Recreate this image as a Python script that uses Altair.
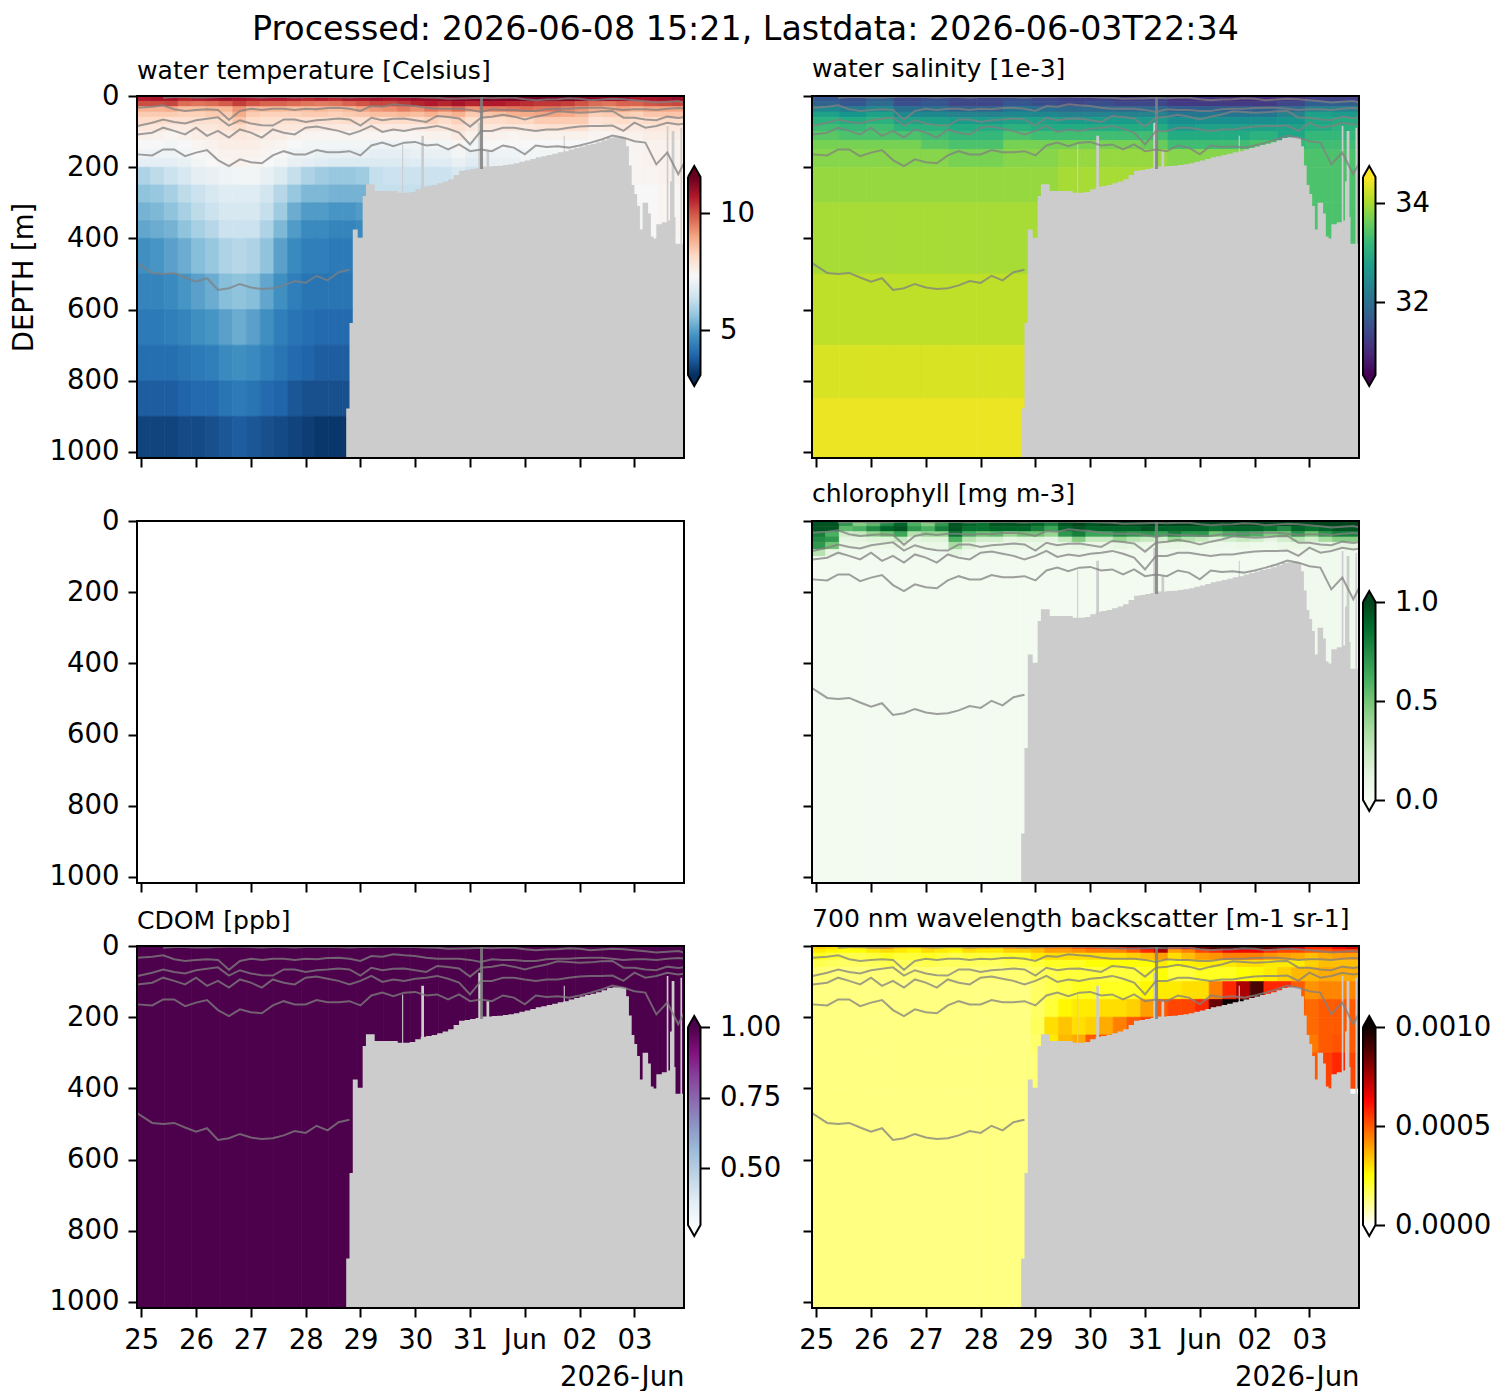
import altair as alt
import pandas as pd

TITLE = "Processed: 2026-06-08 15:21, Lastdata: 2026-06-03T22:34"
x_tick_labels = ['25', '26', '27', '28', '29', '30', '31', 'Jun', '02', '03']
y_ticks = [0, 200, 400, 600, 800, 1000]
XDOM = [-0.078, 9.905]
YDOM = [0, 1017]
PW, PH = 547, 362
CW = 128

# temperature, tenths of a degree, 0.25 day columns
T_edges = [0, 15, 30, 45, 60, 80, 100, 125, 150, 175, 200, 250, 300, 350, 400, 500, 600, 700, 800, 900, 1020]
T_rows = [
    [107,108,108,106,107,108,109,108,107,108,108,107,106,107,106,108,108,109,108,109,110,110,111,112,112,113,112,113,114,114,113,114,113,112,111,111,108,108,109,110],
    [101,101,102,97,96,97,99,103,100,98,98,97,96,95,96,98,100,102,102,104,106,107,106,108,106,107,107,106,105,104,104,103,100,97,96,98,98,100,101,102],
    [88,88,89,86,86,87,87,92,87,87,87,86,86,87,86,87,90,92,93,95,93,96,94,97,92,95,95,96,97,96,96,94,92,89,88,90,88,90,90,90],
    [84,84,84,83,83,84,84,89,84,83,83,83,84,84,83,84,85,86,86,87,86,88,86,88,84,85,86,88,89,90,90,89,87,83,84,84,83,85,85,85],
    [81,81,80,80,80,80,81,85,81,80,80,80,80,80,80,81,80,81,81,81,81,83,81,83,80,81,81,82,82,84,84,84,84,79,80,81,80,81,81,81],
    [78,78,77,77,78,78,79,81,79,78,78,78,77,77,77,77,77,77,77,77,77,78,78,80,78,78,78,78,78,79,80,80,80,76,77,78,77,78,78,78],
    [75,75,74,75,76,76,77,78,77,76,76,75,74,74,74,74,74,74,74,74,74,75,75,77,75,75,75,74,75,75,75,75,75,74,74,75,75,76,76,76],
    [73,73,72,73,74,75,76,76,76,75,74,73,72,72,72,72,72,71,71,71,71,72,72,74,72,73,73,73,73,73,73,73,73,73,73,74,74,75,75,75],
    [71,71,71,72,73,74,75,75,75,74,73,71,71,70,70,70,70,69,69,69,70,70,70,72,70,71,71,71,72,72,72,72,72,72,73,74,74,75,75,75],
    [69,69,69,70,72,73,74,75,74,73,72,70,69,68,67,67,67,67,67,67,68,68,68,70,68,70,70,70,71,71,71,71,72,72,72,73,74,75,75,75],
    [60,62,64,66,69,70,71,72,72,70,67,63,60,58,57,57,58,63,64,64,64,64,64,66,64,66,66,66,70,70,70,70,70,72,72,73,74,74,75,75],
    [56,57,59,62,64,66,68,68,68,65,61,57,54,54,53,53,53] + [63] * 19 + [73,73,74,74],
    [53,54,56,59,62,64,66,66,66,63,58,52,49,49,48,48,49] + [63] * 19 + [72,73,74,74],
    [51,52,53,56,59,61,64,64,64,60,54,49,46,46,45,45,46] + [63] * 19 + [72,73,74,74],
    [47,48,50,52,55,57,60,61,60,56,50,46,44,44,43,43] + [63] * 20 + [73,73,73,73],
    [45,45,46,48,50,52,55,56,55,51,47,44,42,42,42,42],
    [43,43,44,45,47,48,50,52,50,47,44,42,41,40,40,40],
    [41,41,41,42,43,44,46,47,46,44,42,40,39,38,38,38],
    [38,38,38,39,40,40,42,43,42,40,39,37,36,36,36,36],
    [34,34,34,35,35,36,37,38,37,36,35,34,33,32,32,32],
]

# salinity, tenths, 0.5 day columns
S_edges = [0, 15, 30, 45, 60, 80, 100, 125, 150, 200, 300, 500, 700, 850, 1020]
S_rows = [
    [316,315,317,314,315,314,314,315,314,313,313,312,313,311,311,310,310,311,313,313],
    [318,316,319,315,316,314,314,316,315,314,315,314,314,312,312,312,312,314,317,317],
    [324,322,324,320,320,318,318,321,320,319,319,319,319,317,317,317,317,319,323,323],
    [328,326,328,324,324,323,323,324,324,323,323,323,323,321,321,321,321,323,328,327],
    [331,330,331,328,328,327,327,328,328,327,327,327,327,325,325,325,325,326,329,330],
    [333,332,333,331,331,330,330,331,330,330,330,330,330,327,328,328,328,328,330,331],
    [335,334,334,334,333,332,332,334,333,333,333,333,333,330,330,330,331,329,332,332],
    [337,337,337,337,335,334,334,337,337,337,337,337,336,333,333,333,334,332,333,333],
    [338,338,338,338,338,337,337,338,338,339,339,339,339,338,338,338,339,335,334,334],
    [339,339,339,339,339,339,339,339,339,340,340,340,340,340,340,340,340,337,334,334],
    [340] * 18 + [334,334],
    [341.5] * 8,
    [343] * 8,
    [344.2] * 8,
]

# chlorophyll, hundredths, 0.25 day columns
C_edges = [0, 15, 30, 45, 60, 80, 100, 1020]
C_rows = [
    [95,95,70,45,55,75,90,60,45,70,95,90,85,95,95,95,90,80,95,100,95,100,100,100,100,100,100,100,100,100,100,100,100,100,100,100,100,100,100,100],
    [95,95,55,60,75,90,95,70,60,80,95,85,85,90,90,90,80,65,90,95,90,90,90,90,95,90,90,90,90,85,90,90,90,85,75,90,85,90,95,95],
    [80,60,20,25,40,50,65,30,40,40,85,60,50,55,40,50,50,40,70,80,65,65,75,70,70,65,80,70,70,50,60,65,60,45,50,70,50,70,80,80],
    [75,70,12,12,15,15,25,12,15,15,60,30,20,20,12,15,15,12,25,45,25,25,40,30,25,20,40,30,25,15,20,25,20,12,20,30,20,35,45,45],
    [70,50,8,8,8,8,10,8,8,8,35,15,8,8,8,8,8,8,8,12,8,8,12,10,8,8,10,8,8,6,6,8,6,6,8,10,8,10,12,12],
    [30,10,5,5,5,5,5,5,5,5,12,6,5,5,5,5,5,5,5,5,5,5,5,5,5,5,5,5,5,4,4,4,4,4,5,5,5,5,5,5],
    [3] * 36 + [5,5,5,5],
]

# CDOM, ppb, 0.5 day columns
D_edges = [0, 1020]
D_rows = [[1.05] * 20]

# backscatter, 1e-5 m-1 sr-1, 0.25 day columns
B_edges = [0, 10, 20, 40, 60, 100, 150, 200, 250, 300, 400, 1020]
B_rows = [
    [32,30,28,30,35,40,32,30,35,30,30,35,35,32,40,40,40,45,45,50,55,55,60,70,80,90,60,70,85,90,90,95,90,85,80,70,60,60,65,70],
    [28,26,25,25,28,30,28,26,30,28,26,30,28,28,32,32,35,40,40,42,45,45,45,50,60,75,40,45,55,60,65,65,65,60,55,55,50,50,55,55],
    [24,22,20,20,22,24,22,22,24,22,20,22,22,22,24,24,28,30,30,30,30,30,30,32,35,40,30,35,40,42,45,45,45,42,40,38,35,38,40,40],
    [20,18,17,17,18,20,18,18,20,18,18,18,18,18,20,20,22,24,24,24,25,25,25,25,25,28,25,27,28,28,28,30,30,28,28,28,32,35,35,35],
    [15,14,13,13,14,14,14,14,14,14,14,14,14,14,15,15,18,20,22,22,22,22,22,22,24,25,22,22,24,24,24,25,26,28,32,36,36,38,38,38],
    [12,11,10,10,10,10,10,10,11,11,11,11,11,11,12,12,17,20,22,24,24,24,24,24,26,28,28,30,30,45,60,75,90,60,60,50,42,44,44,44],
    [11,10,9,9,9,9,9,9,10,10,10,10,10,10,11,11,17,22,26,28,28,30,30,32,40,50,55,55,60,85,100,110,110,110,60,50,48,50,50,50],
    [10,10,9,9,9,9,9,9,10,10,10,10,10,10,10,10,18,30,34,30,32,38,45,50,55,60] + [50] * 10 + [48,50,50,50],
    [10] * 16 + [16,28,36,38] + [50] * 16 + [46,50,52,50],
    [10] * 16 + [14,16] + [50] * 18 + [50,56,60,55],
    [10,10,9,9,9,8,8,8,8,8,8,8,8,8,8,8],
]

# bottom depth as steps: day of step start, depth
floor_days = [3.74,3.80,3.86,3.95,4.04,4.10,4.26,4.68,4.8,4.9,5.0,5.1,5.2,5.3,5.4,5.5,5.6,5.7,5.8,5.9,6.0,6.1,6.2,6.3,6.4,6.5,6.6,6.7,6.8,6.9,7.0,7.1,7.2,7.3,7.4,7.5,7.6,7.7,7.8,7.9,8.0,8.1,8.2,8.3,8.4,8.5,8.6,8.7,8.8,8.85,8.9,8.95,9.0,9.05,9.1,9.15,9.2,9.25,9.3,9.35,9.4,9.5,9.6,9.65,9.7,9.75,9.8,9.9,9.95]
floor_depth = [878,638,375,398,281,248,267,272,272,270,262,255,253,250,245,240,234,222,210,208,205,202,198,198,197,196,194,192,189,185,181,177,172,169,166,162,158,155,150,146,142,138,134,130,124,118,116,115,117,141,195,250,275,309,375,300,300,330,395,400,360,355,350,240,340,415,415,420,420]

sliver_day = [4.76, 5.11, 6.15, 6.30, 7.71, 9.59, 9.68, 9.84]
sliver_wid = [0.02, 0.05, 0.06, 0.05, 0.02, 0.03, 0.05, 0.03]
sliver_top = [136, 112, 75, 155, 112, 84, 98, 89]

stripe_day = [6.21]
stripe_top = [0]
stripe_bot = [205]

# isolines
line_days = [-0.07,0.2,0.4,0.6,0.8,1.0,1.2,1.4,1.6,1.8,2.0,2.2,2.4,2.6,2.8,3.0,3.2,3.4,3.6,3.8,4.0,4.2,4.4,4.6,4.8,5.0,5.2,5.4,5.6,5.8,6.0,6.2,6.4,6.6,6.8,7.0,7.2,7.4,7.6,7.8,8.0,8.2,8.4,8.6,8.8,9.0,9.2,9.4,9.6,9.8,9.9]
L0 = [5,3,3,4,4,3,2,2,3,4,3,3,4,3,2,3,3,4,3,3,2,2,3,3,4,5,8,7,6,5,6,5,5,9,12,10,9,6,8,12,10,8,9,12,15,18,16,14,18]
L1 = [33,30,26,37,42,39,37,39,67,42,36,39,36,36,39,36,37,34,33,36,42,28,30,23,26,28,33,36,36,36,39,45,37,39,39,42,42,37,36,36,34,33,33,36,39,37,37,39,36,34,35]
L2 = [84,75,66,73,77,68,64,60,83,68,77,82,83,66,66,73,68,66,63,66,83,61,68,64,63,68,73,56,59,63,86,61,58,53,58,66,58,52,43,45,47,46,43,42,61,61,66,68,58,62,60]
L3 = [108,103,89,98,108,89,112,98,117,94,103,117,94,103,108,89,86,92,98,108,98,84,101,94,98,92,89,84,92,103,136,98,98,89,89,94,98,94,94,89,86,84,84,83,98,75,89,84,75,80,78]
L4 = [164,167,150,150,169,159,152,180,197,178,186,189,167,155,164,164,152,158,158,155,167,139,131,141,131,129,139,136,150,136,155,150,155,139,145,164,139,143,141,145,139,131,122,111,117,127,131,192,159,220,190]
L5 = [470,497,500,497,510,522,512,545,540,528,538,542,540,532,520,525,505,518,495,488]

RdBu = ['#053061','#2166ac','#4393c3','#92c5de','#d1e5f0','#f7f7f7','#fddbc7','#f4a582','#d6604d','#b2182b','#67001f']
Viridis = ['#440154','#482878','#3e4989','#31688e','#26828e','#1f9e89','#35b779','#6ece58','#b5de2b','#fde725']
Greens = ['#f7fcf5','#e5f5e0','#c7e9c0','#a1d99b','#74c476','#41ab5d','#238b45','#006d2c','#00441b']
BuPu = ['#f7fcfd','#e0ecf4','#bfd3e6','#9ebcda','#8c96c6','#8c6bb1','#88419d','#810f7c','#4d004b']
HotR = ['#ffffff','#ffff81','#ffff04','#ffae00','#ff5a00','#ff0700','#ae0000','#570000','#0b0000']


def even(n):
    return [i / (n - 1) for i in range(n)]


def cells(rows, edges, step, factor):
    out = []
    for j, row in enumerate(rows):
        for i, v in enumerate(row):
            out.append({'x': -0.08 + step * i, 'x2': -0.08 + step * (i + 1),
                        'y': edges[j], 'y2': edges[j + 1], 'v': v * factor})
    return pd.DataFrame(out)


def lines():
    out = []
    for name, days, vals in [('L0', line_days[2:], L0), ('L1', line_days, L1), ('L2', line_days, L2),
                             ('L3', line_days, L3), ('L4', line_days, L4), ('L5', line_days, L5)]:
        for d, v in zip(days, vals):
            out.append({'x': d, 'y': v, 'line': name})
    return pd.DataFrame(out)


floor_df = pd.DataFrame({'x': floor_days, 'y': floor_depth, 'y2': [1020] * len(floor_depth)})
sliver_df = pd.DataFrame({'x': sliver_day, 'x2': [d + w for d, w in zip(sliver_day, sliver_wid)],
                          'y': sliver_top, 'y2': [1020] * len(sliver_top)})
stripe_df = pd.DataFrame({'x': stripe_day, 'y': stripe_top, 'y2': stripe_bot})
frame_df = pd.DataFrame({'x': [XDOM[0]], 'x2': [XDOM[1]], 'y': [YDOM[0]], 'y2': [YDOM[1]]})
line_df = lines()

LABEL = 27.5
xscale = alt.Scale(domain=XDOM, nice=False, zero=False)
yscale = alt.Scale(domain=YDOM, nice=False, zero=False, reverse=True)


def panel(cell_df, scale, title=None, xlabels=False, ylabels=True, ytitle=None):
    xa = dict(values=list(range(10)), tickSize=9, tickWidth=2, tickColor='black', domain=False, grid=False,
              labels=xlabels, labelFontSize=LABEL, labelColor='black', labelPadding=9, labelOverlap=False,
              labelExpr=str(x_tick_labels) + '[datum.value]', title='', labelFlush=False, labelBound=False)
    if xlabels:
        xa.update(title='2026-Jun', titleFontSize=LABEL, titleFontWeight='normal', titleColor='black',
                  titleAnchor='end', titlePadding=10)
    ya = dict(values=y_ticks, format='d', tickSize=9, tickWidth=2, tickColor='black', domain=False, grid=False,
              labels=ylabels, labelFontSize=LABEL, labelColor='black', labelPadding=9, labelOverlap=False,
              title='', labelFlush=False, labelBound=False)
    if ytitle:
        ya.update(title=ytitle, titleFontSize=LABEL, titleFontWeight='normal', titleColor='black', titlePadding=11)
    X = alt.X('x:Q', scale=xscale, axis=alt.Axis(**xa))
    Y = alt.Y('y:Q', scale=yscale, axis=alt.Axis(**ya))
    X2, Y2 = alt.X2('x2:Q'), alt.Y2('y2:Q')
    layers = []
    if cell_df is not None:
        layers.append(alt.Chart(cell_df).mark_rect(clip=True, strokeWidth=0.7).encode(
            x=X, x2=X2, y=Y, y2=Y2,
            color=alt.Color('v:Q', scale=scale, legend=None),
            stroke=alt.Stroke('v:Q', scale=scale, legend=None)))
        layers.append(alt.Chart(floor_df).mark_area(clip=True, color='#cccccc', interpolate='step-after',
                                                    orient='vertical').encode(x=X, y=Y, y2=Y2))
        layers.append(alt.Chart(sliver_df).mark_rect(clip=True, color='#cccccc').encode(x=X, x2=X2, y=Y, y2=Y2))
        layers.append(alt.Chart(line_df).mark_line(clip=True, color='#808080', opacity=0.75, strokeWidth=2).encode(
            x=X, y=Y, detail='line:N'))
        layers.append(alt.Chart(stripe_df).mark_rule(clip=True, color='#808080', opacity=0.85, strokeWidth=3).encode(
            x=X, y=Y, y2=Y2))
    layers.append(alt.Chart(frame_df).mark_rect(filled=False, stroke='black', strokeWidth=2).encode(
        x=X, x2=X2, y=Y, y2=Y2))
    props = dict(width=PW, height=PH)
    if title:
        props['title'] = alt.TitleParams(title, fontSize=25.1, fontWeight='normal', color='black', anchor='start',
                                         frame='group', offset=13, dy=15 if ylabels else 0)
    return alt.layer(*layers).properties(**props)


def colorbar(lo, hi, colors, ticks, fmt):
    k = (hi - lo) / 198
    ytop, ybot = hi + 81 * k, lo - (PH - 279) * k
    tip = 11 * k
    xl, xm, xr = 4, 10.25, 16.5
    ya = alt.Axis(values=ticks, format=fmt, orient='right', offset=-(CW - xr), tickSize=9, tickWidth=2, tickColor='black',
                  domain=False, grid=False, labelFontSize=LABEL, labelColor='black', labelPadding=10, title='',
                  labelOverlap=False, labelFlush=False, labelBound=False)
    X = alt.X('x:Q', scale=alt.Scale(domain=[0, CW], nice=False, zero=False), axis=None)
    Y = alt.Y('y:Q', scale=alt.Scale(domain=[ybot, ytop], nice=False, zero=False), axis=ya)
    grad = alt.Gradient(gradient='linear', x1=0, x2=0, y1=1, y2=0,
                        stops=[alt.GradientStop(color=c, offset=o) for c, o in zip(colors, even(len(colors)))])
    bar = alt.Chart(pd.DataFrame({'x': [xl], 'x2': [xr], 'y': [lo], 'y2': [hi]})).mark_rect(color=grad).encode(
        x=X, x2=alt.X2('x2:Q'), y=Y, y2=alt.Y2('y2:Q'))
    top = alt.Chart(pd.DataFrame({'x': [xl, xm, xr], 'y': [hi, hi + tip, hi], 'y2': [hi, hi, hi]})).mark_area(
        color=colors[-1], orient='vertical').encode(x=X, y=Y, y2=alt.Y2('y2:Q'))
    bot = alt.Chart(pd.DataFrame({'x': [xl, xm, xr], 'y': [lo, lo - tip, lo], 'y2': [lo, lo, lo]})).mark_area(
        color=colors[0], orient='vertical').encode(x=X, y=Y, y2=alt.Y2('y2:Q'))
    outline = alt.Chart(pd.DataFrame({
        'x': [xl, xm, xr, xr, xm, xl, xl],
        'y': [hi, hi + tip, hi, lo, lo - tip, lo, hi],
        'i': list(range(7))})).mark_line(color='black', strokeWidth=2).encode(x=X, y=Y, order='i:Q')
    return alt.layer(bar, top, bot, outline).properties(width=CW, height=PH)


def blank():
    return alt.Chart(pd.DataFrame({'x': [0]})).mark_point(opacity=0).encode(
        x=alt.X('x:Q', axis=None), y=alt.Y('x:Q', axis=None)).properties(width=CW, height=PH)


def scale_for(lo, hi, colors):
    return alt.Scale(domain=[lo + a * (hi - lo) for a in even(len(colors))], range=colors, clamp=True, nice=False,
                     zero=False)


T_lim = (3.08, 11.54)
S_lim = (30.53, 34.53)
C_lim = (0.0, 1.0)
D_lim = (0.30, 1.0)
B_lim = (0.0, 0.001)

p_T = panel(cells(T_rows, T_edges, 0.25, 0.1), scale_for(*T_lim, RdBu), 'water temperature [Celsius]', ytitle='DEPTH [m]')
p_S = panel(cells(S_rows, S_edges, 0.5, 0.1), scale_for(*S_lim, Viridis), 'water salinity [1e-3]', ylabels=False)
p_O = panel(None, None)
p_C = panel(cells(C_rows, C_edges, 0.25, 0.01), scale_for(*C_lim, Greens), 'chlorophyll [mg m-3]', ylabels=False)
p_D = panel(cells(D_rows, D_edges, 0.5, 1), scale_for(*D_lim, BuPu), 'CDOM [ppb]', xlabels=True)
p_B = panel(cells(B_rows, B_edges, 0.25, 1e-5), scale_for(*B_lim, HotR), '700 nm wavelength backscatter [m-1 sr-1]', xlabels=True, ylabels=False)

c_T = colorbar(*T_lim, RdBu, [5, 10], 'd')
c_S = colorbar(*S_lim, Viridis, [32, 34], 'd')
c_C = colorbar(*C_lim, Greens, [0, 0.5, 1], '.1f')
c_D = colorbar(*D_lim, BuPu, [0.5, 0.75, 1], '.2f')
c_B = colorbar(*B_lim, HotR, [0, 0.0005, 0.001], '.4f')

chart = alt.concat(
    p_T, c_T, p_S, c_S,
    p_O, blank(), p_C, c_C,
    p_D, c_D, p_B, c_B,
    columns=4, spacing={'row': 63, 'column': 0}, bounds='flush',
    title=alt.TitleParams(TITLE, fontSize=33.3, fontWeight='normal', color='black', anchor='middle', offset=10, dx=-5),
).resolve_scale(color='independent', stroke='independent').properties(
    padding={'left': 2, 'top': 4, 'right': 0, 'bottom': 0}).configure(
    font='DejaVu Sans').configure_view(strokeWidth=0)

chart.save("out.html", embed_options={"renderer": "svg", "actions": False})
